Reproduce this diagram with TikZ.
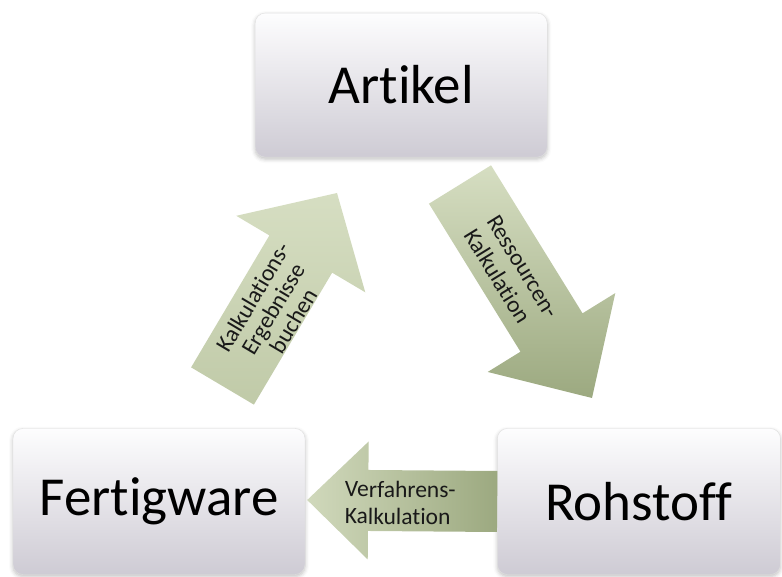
\documentclass[tikz,border=0pt]{standalone}
\usepackage{fontspec}
\setmainfont{Carlito}[Ligatures={NoCommon,NoContextual,NoRare}]
\usepackage{xcolor}
\usetikzlibrary{positioning,calc,shadows.blur}

\definecolor{boxtop}{RGB}{253,253,254}
\definecolor{boxbot}{RGB}{206,203,212}
\definecolor{arrlight}{RGB}{214,222,194}
\definecolor{arrmid}{RGB}{192,202,168}
\definecolor{arrdark}{RGB}{156,169,128}

% block arrow: [shading], tail, tip, half shaft, half head, head length
\newcommand{\blockarrow}[6][]{%
  \shade[#1]
    ($(#2)!#4!90:(#3)$)
    -- ($(#3)!#6!(#2)!#4!90:(#3)$)
    -- ($(#3)!#6!(#2)!#5!90:(#3)$)
    -- (#3)
    -- ($(#3)!#6!(#2)!#5!-90:(#3)$)
    -- ($(#3)!#6!(#2)!#4!-90:(#3)$)
    -- ($(#2)!#4!-90:(#3)$)
    -- cycle;}

\begin{document}
\begin{tikzpicture}[
  x=1pt, y=-1pt,
  box/.style={rounded corners=10pt, draw=black!12, top color=boxtop, bottom color=boxbot,
    minimum width=292pt, minimum height=146pt, text=black,
    font=\fontsize{55}{60}\selectfont,
    blur shadow={shadow xshift=0pt, shadow yshift=-2pt, shadow blur radius=4pt, shadow opacity=25}},
  lbl/.style={text=black!90, font=\fontsize{23.5}{27}\selectfont, inner sep=0pt}
]
  \useasboundingbox (0,0) rectangle (782,577);

  \node[box] (fert) at (159,501.5) {Fertigware};
  \node[box, right=192pt of fert, minimum width=283pt] (roh) {Rohstoff};
  \coordinate (gap) at ($(fert.north east)!0.5!(roh.north west)$);
  \node[box, above=271pt of gap, minimum height=144pt] (art) {Artikel};

  \coordinate (uptail) at (222.5,386);
  \coordinate (uptip) at (337,193);
  \coordinate (dntail) at (460,184.5);
  \coordinate (dntip) at (592,398);
  \coordinate (ltip) at ($(fert.east)+(2,-1.5)$);

  \blockarrow[top color=arrlight, bottom color=arrmid]{uptail}{uptip}{36.5pt}{75pt}{71pt}
  \blockarrow[top color=arrlight, bottom color=arrdark]{dntail}{dntip}{36.5pt}{75pt}{77pt}
  \blockarrow[left color=arrlight!90!arrdark, right color=arrdark]{roh.west}{ltip}{30.5pt}{59pt}{61pt}

  \node[lbl, rotate=59.3, align=center, font=\fontsize{23.5}{23.5}\selectfont] (uplbl)
    at ($(uptail)!0.41!(uptip)!4pt!-90:(uptip)$) {Kalkulations-\\Ergebnisse\\buchen};
  \node[lbl, rotate=-58.3, align=left] (dnlbl)
    at ($(dntail)!0.41!(dntip)!3pt!-90:(dntip)$) {Ressourcen-\\Kalkulation};
  \path (roh.west) -- node[lbl, pos=0.51, sloped, align=left, yshift=-2pt] (llbl)
    {Verfahrens-\\Kalkulation} (ltip);
\end{tikzpicture}
\end{document}
